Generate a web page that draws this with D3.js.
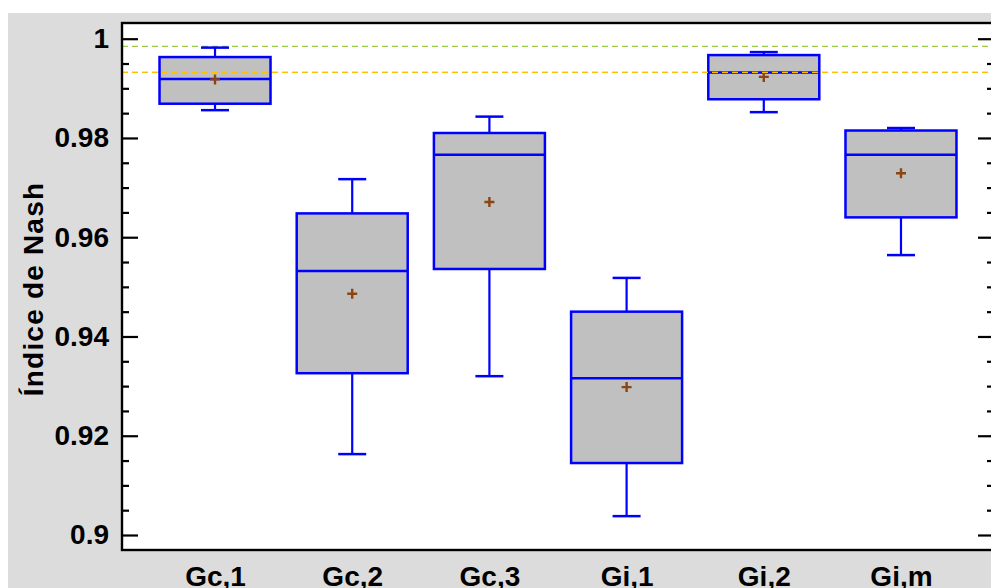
<!DOCTYPE html>
<html>
<head>
<meta charset="utf-8">
<script src="https://cdn.jsdelivr.net/npm/d3@7.9.0/dist/d3.min.js"></script>
<style>
  html, body { margin: 0; padding: 0; background: #fff; }
  svg { display: block; }
  .tick text { font-family: "Liberation Sans", Arial, sans-serif; font-weight: bold; font-size: 28px; fill: #000; }
</style>
</head>
<body>
<svg id="chart" width="991" height="588"></svg>
<script>
// box plot values
const categories = ['Gc,1', 'Gc,2', 'Gc,3', 'Gi,1', 'Gi,2', 'Gi,m'];
const whiskerLow  = [0.9856, 0.9163, 0.9320, 0.9038, 0.9852, 0.9564];
const q1          = [0.9869, 0.9326, 0.9536, 0.9145, 0.9878, 0.9640];
const medians     = [0.9919, 0.9532, 0.9766, 0.9316, 0.9932, 0.9766];
const q3          = [0.9963, 0.9648, 0.9810, 0.9450, 0.9967, 0.9815];
const whiskerHigh = [0.9982, 0.9717, 0.9843, 0.9518, 0.9973, 0.9820];
const means       = [0.9918, 0.9486, 0.9671, 0.9298, 0.9923, 0.9729];

const refLines = [
  { value: 0.99847, color: '#99cc44' },
  { value: 0.99323, color: '#ffbf00' }
];
const majorTicks = [0.9, 0.92, 0.94, 0.96, 0.98, 1];
const minorTicks = d3.range(0, 21).map(i => +(0.9 + i * 0.005).toFixed(3))
  .filter(v => !majorTicks.includes(v));

const svg = d3.select('#chart');
const m = { left: 122, right: 994, top: 23, bottom: 550 };

const y = d3.scaleLinear().domain([0.896978, 1.003163]).range([m.bottom, m.top]);
const x = d3.scalePoint().domain(categories).range([m.left, m.right]).padding(0.678);
const boxW = 111, capW = 28;

// grey page background
svg.append('rect')
  .attr('x', 8).attr('y', 13)
  .attr('width', 1000).attr('height', 600)
  .attr('fill', '#dcdcdc');

// plot area
svg.append('rect')
  .attr('x', m.left).attr('y', m.top)
  .attr('width', m.right - m.left).attr('height', m.bottom - m.top)
  .attr('fill', '#fff');

function refLine(r) {
  svg.append('line')
    .attr('x1', m.left).attr('x2', m.right)
    .attr('y1', y(r.value)).attr('y2', y(r.value))
    .attr('stroke', r.color)
    .attr('stroke-width', 1.3)
    .attr('stroke-dasharray', '6,4');
}
refLines.forEach(refLine);

const data = categories.map((c, i) => ({
  name: c, lo: whiskerLow[i], q1: q1[i], med: medians[i],
  q3: q3[i], hi: whiskerHigh[i], mean: means[i]
}));

const g = svg.append('g');
data.forEach(d => {
  const cx = x(d.name);
  const blue = '#0000ff';
  // whiskers
  g.append('line').attr('x1', cx).attr('x2', cx)
    .attr('y1', y(d.q3)).attr('y2', y(d.hi))
    .attr('stroke', blue).attr('stroke-width', 2.2);
  g.append('line').attr('x1', cx).attr('x2', cx)
    .attr('y1', y(d.q1)).attr('y2', y(d.lo))
    .attr('stroke', blue).attr('stroke-width', 2.2);
  [d.lo, d.hi].forEach(v => {
    g.append('line')
      .attr('x1', cx - capW / 2).attr('x2', cx + capW / 2)
      .attr('y1', y(v)).attr('y2', y(v))
      .attr('stroke', blue).attr('stroke-width', 2.5);
  });
  // box
  g.append('rect')
    .attr('x', cx - boxW / 2).attr('y', y(d.q3))
    .attr('width', boxW).attr('height', y(d.q1) - y(d.q3))
    .attr('fill', '#c0c0c0')
    .attr('stroke', blue).attr('stroke-width', 2.5);
  g.append('line')
    .attr('x1', cx - boxW / 2).attr('x2', cx + boxW / 2)
    .attr('y1', y(d.med)).attr('y2', y(d.med))
    .attr('stroke', blue).attr('stroke-width', 2.5);
  // mean marker
  const my = y(d.mean);
  g.append('path')
    .attr('d', `M${cx - 5},${my}H${cx + 5}M${cx},${my - 5}V${my + 5}`)
    .attr('stroke', '#8b4513').attr('stroke-width', 2.4);
});

// the orange reference line shows through the Gi,2 median
refLine(refLines[1]);

// y axes (ticks pointing inward)
const yLeft = svg.append('g').attr('transform', `translate(${m.left},0)`)
  .call(d3.axisLeft(y).tickValues(majorTicks).tickSize(-16).tickPadding(13)
    .tickFormat(d => d === 1 ? '1' : d3.format('.2f')(d).replace(/0$/, '')));
const yLeftMinor = svg.append('g').attr('transform', `translate(${m.left},0)`)
  .call(d3.axisLeft(y).tickValues(minorTicks).tickSize(-7).tickFormat(''));
const yRight = svg.append('g').attr('transform', `translate(${m.right},0)`)
  .call(d3.axisRight(y).tickValues(majorTicks).tickSize(-16).tickFormat(''));
const yRightMinor = svg.append('g').attr('transform', `translate(${m.right},0)`)
  .call(d3.axisRight(y).tickValues(minorTicks).tickSize(-7).tickFormat(''));

[yLeft, yLeftMinor, yRight, yRightMinor].forEach(a => {
  a.select('.domain').remove();
  a.selectAll('.tick line').attr('stroke', '#000').attr('stroke-width', 2.2);
});

// x axis labels
const xAxis = svg.append('g').attr('transform', `translate(0,${m.bottom})`)
  .call(d3.axisBottom(x).tickSize(0).tickPadding(16));
xAxis.select('.domain').remove();
xAxis.selectAll('.tick text').attr('dy', '0.71em');

// frame
svg.append('rect')
  .attr('x', m.left).attr('y', m.top)
  .attr('width', m.right - m.left).attr('height', m.bottom - m.top)
  .attr('fill', 'none')
  .attr('stroke', '#000').attr('stroke-width', 2.4);

// y axis title
svg.append('text')
  .attr('transform', 'translate(43,289) rotate(-90)')
  .attr('text-anchor', 'middle')
  .style('font-family', '"Liberation Sans", Arial, sans-serif')
  .style('font-weight', 'bold')
  .style('font-size', '28px')
  .style('letter-spacing', '1.2px')
  .text('Índice de Nash');
</script>
</body>
</html>
